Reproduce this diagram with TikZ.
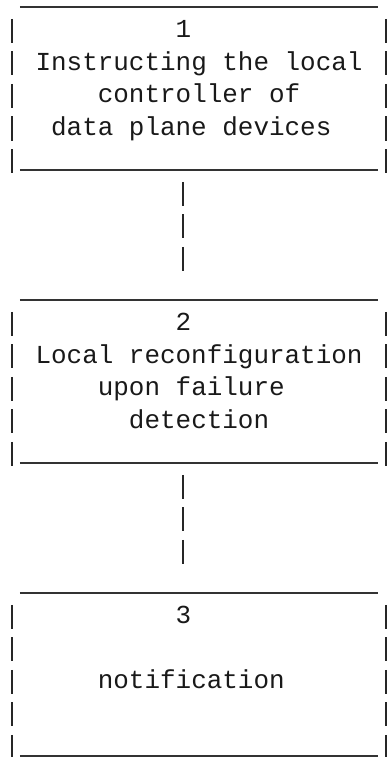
\documentclass[tikz,border=0pt]{standalone}
\usepackage{fontspec}
\usepackage{tikz}
\usetikzlibrary{positioning}
\newfontfamily\asciifont{Liberation Mono}
\newlength{\charw}
\setlength{\charw}{15.57pt}
\newcommand{\skipc}[1]{\hspace*{#1\charw}}
\newcommand{\asciilines}{\spaceskip\charw\xspaceskip\charw\baselineskip32.5pt\relax}

\begin{document}
\begin{tikzpicture}[x=1pt, y=-1pt,
  every node/.style={font=\asciifont\fontsize{25.95pt}{32.5pt}\selectfont, text=black!90},
  uline/.style={draw=black!80, line width=1.6pt},
  pipe/.style={draw=black!85, line width=2pt, dash pattern=on 24pt off 8.5pt},
  stage/.style={inner xsep=7.8pt, inner ysep=0pt, text width=358.1pt, align=left,
    execute at begin node=\asciilines,
    text height=30.5pt, text depth=132pt,
    append after command={
      ([xshift=7.8pt]\tikzlastnode.north west) edge[uline] ([xshift=-7.8pt]\tikzlastnode.north east)
      ([xshift=7.8pt]\tikzlastnode.south west) edge[uline] ([xshift=-7.8pt]\tikzlastnode.south east)
      ([yshift=-12pt]\tikzlastnode.north west) edge[pipe] ([yshift=-3.5pt]\tikzlastnode.south west)
      ([yshift=-12pt]\tikzlastnode.north east) edge[pipe] ([yshift=-3.5pt]\tikzlastnode.south east)
    }}
]
\useasboundingbox (0,0) rectangle (386,757);

\node[stage, anchor=north] (box1) at (199.05,7)
  {\skipc{10}1\\ \skipc{1}Instructing the local\\ \skipc{5}controller of\\ \skipc{2}data plane devices};
\node[stage, below=130pt of box1] (box2)
  {\skipc{10}2\\ \skipc{1}Local reconfiguration\\ \skipc{5}upon failure\\ \skipc{7}detection};
\node[stage, below=130pt of box2] (box3)
  {\skipc{10}3\\ ~\\ \skipc{5}notification};

% links between the stages
\draw[pipe] ([xshift=-15.57pt, yshift=-12pt]box1.south) -- ([xshift=-15.57pt, yshift=29pt]box2.north);
\draw[pipe] ([xshift=-15.57pt, yshift=-12pt]box2.south) -- ([xshift=-15.57pt, yshift=29pt]box3.north);
\end{tikzpicture}
\end{document}
